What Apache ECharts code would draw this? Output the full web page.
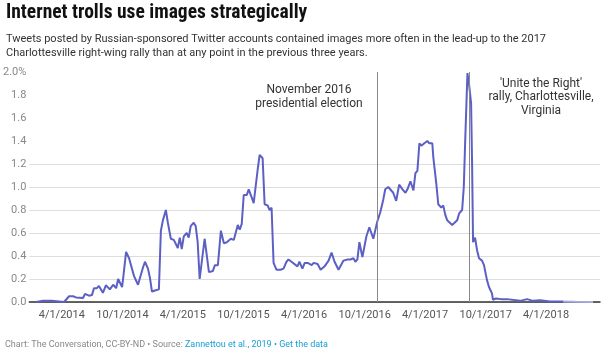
<!DOCTYPE html>
<html>
<head>
<meta charset="utf-8">
<script src="https://cdn.jsdelivr.net/npm/echarts@6/dist/echarts.min.js"></script>
<style>
  html, body { margin: 0; padding: 0; background: #fff; }
  #chart { width: 603px; height: 352px; }
</style>
</head>
<body>
<div id="chart"></div>
<script>
// Weekly share of tweets with images (%)
const dates = [
  '2014-01-14', '2014-02-03', '2014-03-01', '2014-04-08', '2014-04-23', '2014-05-05', '2014-05-14',
  '2014-06-04', '2014-06-10', '2014-06-22', '2014-07-01', '2014-07-07', '2014-07-16', '2014-07-22',
  '2014-08-03', '2014-08-12', '2014-08-18', '2014-08-24', '2014-09-03', '2014-09-12', '2014-09-18',
  '2014-09-30', '2014-10-06', '2014-10-12', '2014-10-21', '2014-10-27', '2014-11-05', '2014-11-17',
  '2014-11-23', '2014-12-02', '2014-12-08', '2014-12-17', '2014-12-23', '2014-12-29', '2015-01-07',
  '2015-01-13', '2015-01-19', '2015-01-25', '2015-01-31', '2015-02-09', '2015-02-15', '2015-02-24',
  '2015-03-05', '2015-03-11', '2015-03-17', '2015-03-23', '2015-03-29', '2015-04-04', '2015-04-13',
  '2015-04-19', '2015-04-25', '2015-05-04', '2015-05-10', '2015-05-16', '2015-05-22', '2015-06-06',
  '2015-06-19', '2015-07-01', '2015-07-07', '2015-07-16', '2015-07-25', '2015-08-03', '2015-08-12',
  '2015-08-24', '2015-09-02', '2015-09-14', '2015-09-20', '2015-09-26', '2015-10-02', '2015-10-11',
  '2015-10-17', '2015-10-26', '2015-11-01', '2015-11-07', '2015-11-13', '2015-11-19', '2015-11-28',
  '2015-12-04', '2015-12-13', '2015-12-19', '2015-12-25', '2015-12-31', '2016-01-09', '2016-01-21',
  '2016-01-30', '2016-02-08', '2016-02-14', '2016-02-23', '2016-02-29', '2016-03-12', '2016-03-18',
  '2016-03-27', '2016-04-03', '2016-04-12', '2016-04-18', '2016-04-24', '2016-04-30', '2016-05-12',
  '2016-05-21', '2016-06-02', '2016-06-14', '2016-06-23', '2016-07-02', '2016-07-14', '2016-07-29',
  '2016-08-10', '2016-08-19', '2016-08-28', '2016-09-03', '2016-09-09', '2016-09-15', '2016-09-24',
  '2016-09-30', '2016-10-06', '2016-10-15', '2016-10-21', '2016-10-27', '2016-11-02', '2016-11-08',
  '2016-11-17', '2016-11-26', '2016-12-02', '2016-12-11', '2016-12-17', '2016-12-26', '2017-01-04',
  '2017-01-13', '2017-01-23', '2017-02-01', '2017-02-07', '2017-02-16', '2017-02-25', '2017-03-03',
  '2017-03-09', '2017-03-15', '2017-03-21', '2017-03-30', '2017-04-08', '2017-04-14', '2017-04-23',
  '2017-04-26', '2017-05-05', '2017-05-11', '2017-05-20', '2017-05-26', '2017-06-01', '2017-06-07',
  '2017-06-13', '2017-06-22', '2017-06-28', '2017-07-07', '2017-07-13', '2017-07-22', '2017-07-27',
  '2017-07-31', '2017-08-07', '2017-08-12', '2017-08-18', '2017-08-21', '2017-08-24', '2017-08-30',
  '2017-09-05', '2017-09-11', '2017-09-20', '2017-09-26', '2017-10-05', '2017-10-11', '2017-10-20',
  '2017-10-23', '2017-11-01', '2017-11-07', '2017-11-16', '2017-11-22', '2017-12-04', '2017-12-10',
  '2018-01-13', '2018-02-03', '2018-02-21', '2018-03-14', '2018-04-13', '2018-05-23', '2018-06-28',
  '2018-08-21'
];
const values = [
  0.0, 0.01, 0.01, 0.0, 0.05, 0.05, 0.04,
  0.035, 0.07, 0.055, 0.06, 0.12, 0.12, 0.14,
  0.08, 0.145, 0.145, 0.11, 0.15, 0.12, 0.2,
  0.13, 0.28, 0.435, 0.38, 0.37, 0.225, 0.15,
  0.16, 0.3, 0.35, 0.29, 0.21, 0.09, 0.1,
  0.11, 0.11, 0.62, 0.71, 0.8, 0.69, 0.55,
  0.54, 0.54, 0.47, 0.56, 0.46, 0.57, 0.6,
  0.56, 0.66, 0.69, 0.66, 0.52, 0.2, 0.55,
  0.26, 0.27, 0.32, 0.32, 0.62, 0.51, 0.52,
  0.55, 0.54, 0.67, 0.63, 0.68, 0.93, 0.93,
  0.98, 0.91, 0.86, 0.86, 1.15, 1.28, 1.25,
  0.85, 0.84, 0.8, 0.82, 0.34, 0.28, 0.28,
  0.29, 0.35, 0.37, 0.35, 0.35, 0.31, 0.35,
  0.29, 0.34, 0.34, 0.34, 0.32, 0.34, 0.33,
  0.28, 0.31, 0.36, 0.43, 0.35, 0.28, 0.36,
  0.37, 0.37, 0.38, 0.35, 0.37, 0.52, 0.39,
  0.39, 0.57, 0.65, 0.6, 0.55, 0.55, 0.7,
  0.78, 0.89, 0.98, 1.0, 1.0, 0.95, 0.88,
  1.02, 0.98, 0.95, 0.98, 1.05, 0.97, 1.12,
  1.14, 1.38, 1.36, 1.38, 1.4, 1.38, 1.38,
  1.26, 1.03, 0.85, 0.82, 0.84, 0.76, 0.71,
  0.72, 0.67, 0.68, 0.71, 0.77, 0.8, 1.0,
  1.38, 1.99, 1.89, 1.73, 1.21, 0.52, 0.56,
  0.45, 0.38, 0.36, 0.32, 0.19, 0.13, 0.075,
  0.02, 0.03, 0.04, 0.025, 0.03, 0.025, 0.01,
  0.01, 0.025, 0.01, 0.015, 0.005, 0.005, 0.002,
  0.001
];
const tailStart = '2018-05-23'; // the last weeks are drawn paler
const xTicks = ['2014-04-01', '2014-10-01', '2015-04-01', '2015-10-01', '2016-04-01',
                '2016-10-01', '2017-04-01', '2017-10-01', '2018-04-01'];
const events = [
  { date: '2016-11-08', label: 'November 2016\npresidential election' },
  { date: '2017-08-12', label: "'Unite the Right'\nrally, Charlottesville,\nVirginia" }
];

// local-time timestamp
const ts = (s) => { const p = s.split('-').map(Number); return new Date(p[0], p[1] - 1, p[2]).getTime(); };

const points = dates.map((d, i) => [ts(d), values[i]]);
const mainPart = points.filter((p) => p[0] <= ts(tailStart));
const tailPart = points.filter((p) => p[0] >= ts(tailStart));

const chart = echarts.init(document.getElementById('chart'));
const font = 'Roboto, "Noto Sans", sans-serif';

const option = {
  animation: false,
  textStyle: { fontFamily: font },
  title: [
    {
      text: 'Internet trolls use images strategically',
      left: 1, top: -2,
      textStyle: { fontFamily: '"Liberation Sans Narrow", "Roboto Condensed", Roboto, sans-serif', fontSize: 19.5, fontWeight: 'bold', color: '#111' }
    },
    {
      text: 'Tweets posted by Russian-sponsored Twitter accounts contained images more often in the lead-up to the 2017\nCharlottesville right-wing rally than at any point in the previous three years.',
      left: 1, top: 27,
      textStyle: { fontFamily: font, fontSize: 11, fontWeight: 'normal', color: '#333', lineHeight: 14 }
    },
    {
      text: '{g|Chart: The Conversation, CC-BY-ND • Source: }{b|Zannettou et al., 2019 • Get the data}',
      left: 0, top: 335,
      textStyle: {
        fontWeight: 'normal',
        rich: {
          g: { fontFamily: font, fontSize: 9, fontWeight: 'normal', color: '#888' },
          b: { fontFamily: font, fontSize: 9, fontWeight: 'normal', color: '#1aa0d4' }
        }
      }
    }
  ],
  grid: { left: 28, right: 3, top: 72, bottom: 50 },
  xAxis: {
    type: 'value',
    min: ts('2013-12-24'),
    max: ts('2018-09-11'),
    axisLine: { onZero: false, lineStyle: { color: '#333', width: 1.5 } },
    axisTick: { show: false },
    splitLine: { show: false },
    axisLabel: {
      customValues: xTicks.map(ts),
      color: '#555', fontSize: 11, margin: 8,
      formatter: (v) => { const d = new Date(v); return (d.getMonth() + 1) + '/' + d.getDate() + '/' + d.getFullYear(); }
    }
  },
  yAxis: {
    type: 'value',
    min: 0, max: 2, interval: 0.2,
    axisLine: { show: false },
    axisTick: { show: false },
    axisLabel: {
      color: '#888', fontSize: 11, margin: 3,
      formatter: (v) => (Math.abs(v - 2) < 1e-9 ? '2.0%' : v.toFixed(1))
    },
    splitLine: {
      lineStyle: {
        width: 1,
        // gridlines above 1.2 are left out in the original
        color: ['#ddd', '#ddd', '#ddd', '#ddd', '#ddd', '#ddd', '#ddd', 'rgba(0,0,0,0)', 'rgba(0,0,0,0)', 'rgba(0,0,0,0)', 'rgba(0,0,0,0)']
      }
    }
  },
  series: [
    {
      type: 'line',
      data: mainPart,
      showSymbol: false,
      lineStyle: { color: '#5c60c4', width: 2 },
      z: 3,
      markLine: {
        silent: true,
        symbol: 'none',
        label: { show: false },
        lineStyle: { color: '#888', width: 1, type: 'solid' },
        data: events.map((e) => [
          { coord: [ts(e.date), 0] },
          { coord: [ts(e.date), 2] }
        ])
      }
    },
    {
      type: 'line',
      data: tailPart,
      showSymbol: false,
      lineStyle: { color: '#a9abe3', width: 2 },
      z: 3
    }
  ],
  graphic: [
    {
      type: 'text', x: 309, y: 83,
      style: { text: events[0].label, font: '12px ' + font, fill: '#333', align: 'center', lineHeight: 14 }
    },
    {
      type: 'text', x: 541, y: 77,
      style: { text: events[1].label, font: '12px ' + font, fill: '#333', align: 'center', lineHeight: 13.5 }
    }
  ]
};

chart.setOption(option);
</script>
</body>
</html>
